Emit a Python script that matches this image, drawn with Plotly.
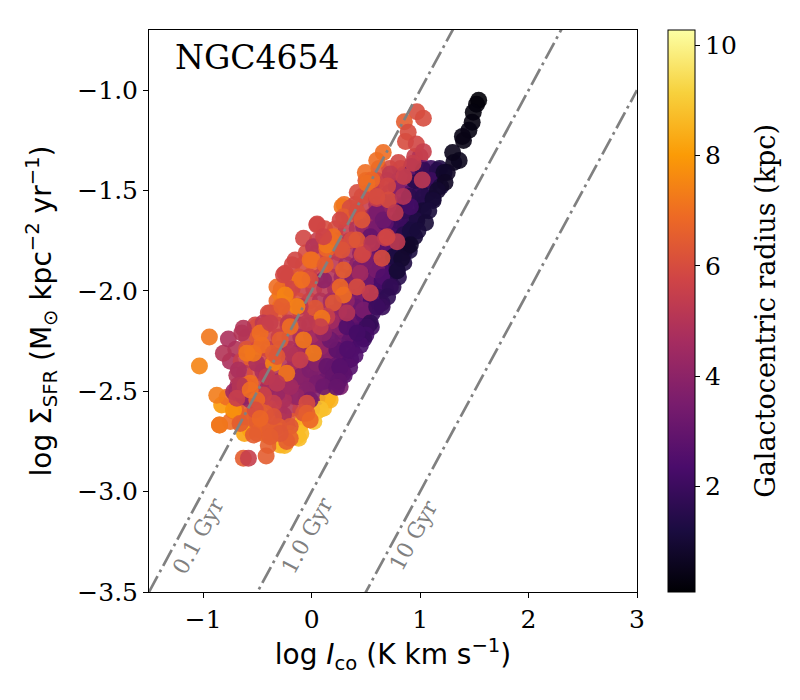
import math
import plotly.graph_objects as go

# ---- data ----
# black / dark chain near the centre (small radius)
x_core = [1.54, 1.52, 1.49, 1.48, 1.45, 1.40, 1.39, 1.36, 1.31, 1.30, 1.25, 1.22, 1.23, 1.16, 1.12, 1.08, 1.05, 0.98, 0.91, 0.83, 0.79]
y_core = [-1.05, -1.07, -1.11, -1.16, -1.20, -1.25, -1.23, -1.35, -1.36, -1.31, -1.41, -1.41, -1.46, -1.50, -1.55, -1.60, -1.66, -1.70, -1.77, -1.84, -1.90]
r_core = [0.15, 0.2, 0.25, 0.3, 0.35, 0.4, 0.4, 0.55, 0.6, 0.5, 0.7, 0.8, 0.7, 0.9, 1.0, 1.1, 1.0, 1.1, 0.8, 0.9, 1.0]

# dark-purple ridge on the right side of the cloud
x_ridge = [0.95, 0.90, 0.85, 0.80, 0.75, 0.725, 0.70, 0.65, 0.60, 0.55, 0.54, 0.51, 0.50, 0.48, 0.45, 0.42, 0.40, 0.36, 0.35, 0.33,
           0.30, 0.29, 0.26, 0.25, 0.23, 1.03, 1.16, 1.10, 1.19, 1.03, 1.12, 1.03, 0.97, 0.91, 0.91, 0.88, 0.755, 0.787]
y_ridge = [-1.73, -1.80, -1.86, -1.93, -1.98, -1.98, -2.03, -2.08, -2.08, -2.18, -2.16, -2.18, -2.22, -2.24, -2.27, -2.21, -2.32, -2.34, -2.38, -2.29,
           -2.42, -2.41, -2.38, -2.45, -2.48, -1.40, -1.40, -1.45, -1.48, -1.53, -1.54, -1.60, -1.65, -1.58, -1.70, -1.78, -1.83, -1.90]
r_ridge = [1.0, 1.2, 1.3, 1.5, 1.6, 1.8, 1.7, 1.9, 2.0, 2.1, 1.8, 2.0, 2.2, 2.0, 2.3, 2.2, 2.5, 2.5, 2.6, 2.5,
           2.7, 2.8, 2.7, 2.9, 3.0, 1.8, 1.5, 2.0, 1.2, 1.5, 1.0, 1.0, 1.3, 2.2, 1.2, 0.9, 1.2, 1.5]

# dense body of the cloud, read row by row
x_body = [0.95, 1.00,
          0.62, 0.72, 0.82, 0.92, 1.02, 1.10, 1.18,
          0.50, 0.60, 0.70, 0.80, 0.90, 0.98, 1.06, 1.14,
          0.42, 0.52, 0.62, 0.72, 0.82, 0.92, 1.00, 1.08,
          0.30, 0.40, 0.50, 0.60, 0.70, 0.78, 0.86, 0.94, 1.02,
          0.35, 0.45, 0.55, 0.65, 0.74, 0.82, 0.90, 0.97,
          0.12, 0.22, 0.32, 0.42, 0.52, 0.62, 0.71, 0.79, 0.86, 0.93,
          0.05, 0.15, 0.25, 0.35, 0.45, 0.55, 0.64, 0.73, 0.81, 0.88,
          -0.05, 0.05, 0.15, 0.25, 0.35, 0.45, 0.54, 0.63, 0.71, 0.79, 0.85,
          -0.18, -0.08, 0.02, 0.12, 0.22, 0.32, 0.42, 0.51, 0.60, 0.68, 0.76,
          -0.22, -0.12, -0.02, 0.08, 0.18, 0.28, 0.38, 0.47, 0.56, 0.64, 0.72,
          -0.28, -0.18, -0.08, 0.02, 0.12, 0.22, 0.32, 0.42, 0.51, 0.60, 0.68,
          -0.32, -0.22, -0.12, -0.02, 0.08, 0.18, 0.28, 0.38, 0.47, 0.55, 0.62,
          -0.40, -0.30, -0.20, -0.10, 0.00, 0.10, 0.20, 0.30, 0.40, 0.48, 0.56,
          -0.52, -0.42, -0.32, -0.22, -0.12, -0.02, 0.08, 0.18, 0.28, 0.37, 0.45, 0.52,
          -0.60, -0.50, -0.40, -0.30, -0.20, -0.10, 0.00, 0.10, 0.20, 0.29, 0.38, 0.46,
          -0.70, -0.60, -0.50, -0.40, -0.30, -0.20, -0.10, 0.00, 0.10, 0.20, 0.29, 0.37,
          -0.75, -0.65, -0.55, -0.45, -0.35, -0.25, -0.15, -0.05, 0.05, 0.15, 0.24, 0.32,
          -0.62, -0.52, -0.42, -0.32, -0.22, -0.12, -0.02, 0.08, 0.17, 0.26,
          -0.68, -0.58, -0.48, -0.38, -0.28, -0.18, -0.08, 0.02, 0.11, 0.20,
          -0.78, -0.65, -0.55, -0.45, -0.35, -0.25, -0.15, -0.05, 0.05, 0.15,
          -0.70, -0.60, -0.50, -0.40, -0.30, -0.20, -0.10, 0.00, 0.08,
          -0.75, -0.62, -0.50, -0.40, -0.28, -0.18, -0.08, 0.02,
          -0.62, -0.50, -0.40, -0.30, -0.20, -0.10,
          -0.40, -0.25]
y_body = [-1.33, -1.33,
          -1.39, -1.39, -1.39, -1.39, -1.39, -1.39, -1.39,
          -1.45, -1.45, -1.45, -1.45, -1.45, -1.45, -1.45, -1.45,
          -1.51, -1.51, -1.51, -1.51, -1.51, -1.51, -1.51, -1.51,
          -1.57, -1.57, -1.57, -1.57, -1.57, -1.57, -1.57, -1.57, -1.57,
          -1.63, -1.63, -1.63, -1.63, -1.63, -1.63, -1.63, -1.63,
          -1.69, -1.69, -1.69, -1.69, -1.69, -1.69, -1.69, -1.69, -1.69, -1.69,
          -1.75, -1.75, -1.75, -1.75, -1.75, -1.75, -1.75, -1.75, -1.75, -1.75,
          -1.81, -1.81, -1.81, -1.81, -1.81, -1.81, -1.81, -1.81, -1.81, -1.81, -1.81,
          -1.87, -1.87, -1.87, -1.87, -1.87, -1.87, -1.87, -1.87, -1.87, -1.87, -1.87,
          -1.93, -1.93, -1.93, -1.93, -1.93, -1.93, -1.93, -1.93, -1.93, -1.93, -1.93,
          -1.99, -1.99, -1.99, -1.99, -1.99, -1.99, -1.99, -1.99, -1.99, -1.99, -1.99,
          -2.05, -2.05, -2.05, -2.05, -2.05, -2.05, -2.05, -2.05, -2.05, -2.05, -2.05,
          -2.11, -2.11, -2.11, -2.11, -2.11, -2.11, -2.11, -2.11, -2.11, -2.11, -2.11,
          -2.17, -2.17, -2.17, -2.17, -2.17, -2.17, -2.17, -2.17, -2.17, -2.17, -2.17, -2.17,
          -2.23, -2.23, -2.23, -2.23, -2.23, -2.23, -2.23, -2.23, -2.23, -2.23, -2.23, -2.23,
          -2.29, -2.29, -2.29, -2.29, -2.29, -2.29, -2.29, -2.29, -2.29, -2.29, -2.29, -2.29,
          -2.35, -2.35, -2.35, -2.35, -2.35, -2.35, -2.35, -2.35, -2.35, -2.35, -2.35, -2.35,
          -2.41, -2.41, -2.41, -2.41, -2.41, -2.41, -2.41, -2.41, -2.41, -2.41,
          -2.47, -2.47, -2.47, -2.47, -2.47, -2.47, -2.47, -2.47, -2.47, -2.47,
          -2.53, -2.53, -2.53, -2.53, -2.53, -2.53, -2.53, -2.53, -2.53, -2.53,
          -2.59, -2.59, -2.59, -2.59, -2.59, -2.59, -2.59, -2.59, -2.59,
          -2.65, -2.65, -2.65, -2.65, -2.65, -2.65, -2.65, -2.65,
          -2.71, -2.71, -2.71, -2.71, -2.71, -2.71,
          -2.77, -2.77]
r_body = [5.5, 5.0,
          6.2, 6.0, 5.5, 5.2, 3.0, 2.0, 1.3,
          6.3, 6.0, 5.5, 4.8, 3.5, 2.5, 1.8, 1.2,
          6.0, 5.8, 5.2, 4.5, 3.8, 2.6, 1.8, 1.2,
          7.0, 5.9, 5.5, 4.8, 4.0, 3.2, 2.4, 1.8, 1.2,
          6.0, 5.6, 5.0, 4.2, 3.3, 2.5, 1.8, 1.3,
          6.0, 6.0, 5.5, 5.0, 4.4, 3.8, 3.0, 2.3, 1.7, 1.2,
          5.5, 6.2, 5.6, 5.2, 4.6, 3.9, 3.2, 2.5, 1.8, 1.3,
          6.0, 6.0, 5.8, 5.5, 4.8, 4.2, 3.6, 2.8, 2.2, 1.6, 1.2,
          5.8, 6.0, 6.3, 5.6, 5.2, 4.6, 4.0, 3.4, 2.8, 2.2, 1.6,
          6.2, 6.3, 5.8, 5.5, 5.0, 4.5, 3.8, 3.2, 2.6, 2.1, 1.6,
          6.6, 6.0, 5.6, 5.5, 5.2, 4.8, 4.2, 3.5, 2.9, 2.3, 1.8,
          6.8, 6.2, 6.0, 5.6, 5.0, 4.6, 4.0, 3.4, 2.8, 2.3, 1.9,
          6.0, 6.5, 6.0, 5.6, 5.2, 4.8, 4.2, 3.6, 3.0, 2.5, 2.0,
          5.8, 6.2, 5.8, 5.5, 5.0, 4.6, 4.3, 3.8, 3.3, 2.8, 2.3, 2.0,
          5.5, 6.4, 5.8, 5.6, 5.2, 4.8, 4.5, 4.1, 3.6, 3.1, 2.7, 2.3,
          5.0, 6.2, 5.8, 5.5, 5.2, 4.9, 4.6, 4.2, 3.9, 3.4, 2.9, 2.5,
          4.8, 5.5, 6.5, 5.8, 5.3, 5.0, 4.6, 4.3, 4.0, 3.5, 3.0, 2.7,
          5.2, 6.0, 5.5, 5.0, 4.7, 4.4, 4.1, 3.7, 3.3, 2.9,
          4.8, 6.3, 5.4, 5.0, 4.6, 4.4, 4.1, 3.8, 3.4, 3.1,
          7.0, 5.2, 6.2, 5.6, 5.0, 4.6, 4.3, 4.0, 3.8, 8.5,
          7.3, 6.5, 6.0, 6.4, 5.5, 5.0, 5.5, 6.2, 8.8,
          7.0, 6.6, 6.4, 6.5, 6.6, 6.4, 8.5, 8.9,
          8.2, 6.5, 6.8, 6.4, 8.2, 8.7,
          6.6, 8.6]

# purple interior (intermediate radius)
x_mid = [0.70, 0.75, 0.80, 0.85, 0.90, 0.95, 1.00, 0.62, 0.55, 0.58, 0.50, 0.45, 0.40, 0.36, 0.30, 0.25, 0.22, 0.15, 0.08, 0.05,
         0.12, 0.00, -0.05, -0.10, -0.15, -0.20, -0.25, -0.30, -0.40, -0.45, 0.65, 0.70, 0.75, 0.80, 0.85, 0.55, 0.48, 0.42, 0.35, 0.30,
         0.20, 0.38, 0.32, 0.25, 0.18, 0.10, 0.05, 0.00, -0.08, -0.15, 0.45, 0.52, 0.48, 0.58, 0.65, 0.72, 0.78, 0.85, 0.92, 0.62,
         0.60, 0.68, 0.60, 0.66, 0.54, 0.51, 0.633, 0.42, 0.66, 0.11, 0.447, 0.60, 0.663, 0.648, 0.479, -0.106, -0.014, 0.048, 0.14, 0.048,
         -0.044, -0.136, -0.26, -0.32, -0.014, 0.233, 0.17, 0.325, 0.11, 0.233, 0.263, 0.20, 0.11, 0.263, -0.198, -0.69, -0.72, -0.567, -0.63, -0.26,
         -0.475, -0.69, -0.814, -0.768, -0.644, -0.506, -0.198, -0.675]
y_mid = [-1.80, -1.72, -1.65, -1.60, -1.53, -1.45, -1.44, -1.78, -1.85, -1.92, -1.95, -2.02, -2.08, -2.15, -2.20, -2.18, -2.28, -2.30, -2.28, -2.42,
         -2.45, -2.35, -2.45, -2.40, -2.45, -2.40, -2.50, -2.45, -2.48, -2.40, -1.95, -1.90, -1.85, -1.78, -1.72, -2.05, -2.12, -2.20, -2.25, -2.32,
         -2.38, -1.95, -2.05, -2.10, -2.15, -2.20, -2.15, -2.22, -2.30, -2.32, -1.88, -1.75, -1.68, -1.62, -1.58, -1.55, -1.48, -1.42, -1.38, -1.68,
         -1.686, -1.66, -1.61, -1.647, -1.73, -1.846, -1.88, -1.91, -1.78, -1.945, -1.912, -1.896, -1.93, -2.06, -2.095, -2.427, -2.394, -2.36, -2.377, -2.46,
         -2.494, -2.527, -2.543, -2.51, -2.543, -2.294, -2.244, -2.178, -2.21, -2.41, -2.477, -2.427, -2.477, -2.377, -2.477, -2.494, -2.502, -2.543, -2.527, -2.618,
         -2.527, -2.42, -2.31, -2.24, -2.21, -2.36, -2.31, -2.394]
r_mid = [2.5, 2.2, 2.0, 1.8, 1.6, 1.5, 1.8, 3.0, 3.3, 2.8, 3.2, 3.5, 3.2, 3.0, 3.4, 3.8, 3.5, 3.9, 4.2, 3.6,
         3.2, 4.0, 3.9, 4.3, 4.5, 4.7, 4.4, 4.6, 4.6, 4.8, 2.3, 2.0, 1.8, 1.6, 1.5, 2.4, 2.6, 2.7, 2.9, 3.0,
         3.2, 3.8, 4.0, 4.2, 4.5, 4.4, 4.8, 4.6, 4.5, 4.8, 3.6, 3.8, 4.2, 4.0, 3.9, 3.5, 3.8, 3.6, 3.0, 3.6,
         3.5, 2.8, 3.5, 3.2, 3.0, 3.5, 2.5, 3.8, 2.8, 4.0, 4.5, 3.5, 2.5, 2.5, 3.5, 3.8, 3.6, 3.8, 3.0, 3.5,
         3.8, 4.2, 4.8, 4.3, 3.5, 2.8, 3.2, 2.5, 4.0, 3.0, 3.5, 3.0, 3.2, 2.7, 4.5, 4.5, 4.5, 4.3, 4.0, 4.8,
         4.5, 5.0, 5.0, 4.8, 5.0, 4.8, 5.0, 4.8]

# red / orange points (outer disc)
x_outer = [0.97, 1.03, 0.855, 0.89, 0.865, 0.965, 1.03, 0.66, 0.60, 0.80, 0.935, 0.725, 0.495, 0.555, 0.85, 1.02, 0.70, 0.464, 0.60, 0.71,
           0.845, 0.28, 0.355, 0.77, 0.05, -0.075, 0.017, 0.17, 0.14, 0.26, 0.37, 0.475, 0.68, 0.787, -0.152, -0.014,
           0.048, 0.002, 0.14, 0.20, 0.294, 0.418, 0.51, 0.60, 0.464, 0.28, 0.418, 0.464, 0.556, 0.648, 0.695, -0.244, -0.106, -0.29, -0.198,
           -0.014, 0.125, 0.294, 0.263, 0.294, 0.20, 0.418, 0.54, 0.325, 0.14, 0.033, -0.106, -0.29, -0.383, -0.32, -0.506, -0.63, -0.214,
           0.263, 0.11, -0.447,
           -0.26, -0.09, -0.244, -0.136, -0.275, 0.094, -0.429, -0.475, -0.943, -1.035, -0.537, -0.352, -0.598, -0.46, -0.352, -0.567,
           -0.66, -0.29, -0.198, -0.23, -0.32, -0.075, 0.017, -0.106, -0.413, -0.32, -0.352, -0.444, 0.079, -0.044, -0.383,
           -0.875, -0.72, -0.66, -0.85, -0.614, -0.506, -0.475, -0.383, -0.306, -0.198, -0.198, -0.075, -0.044, -0.506, -0.429, -0.52,
           -0.352, -0.23, -0.29, -0.63, -0.583, -0.42, -0.537, -0.383, -0.475, -0.66, -0.69, -0.567, -0.044, -0.014]
y_outer = [-1.107, -1.14, -1.157, -1.21, -1.256, -1.268, -1.306, -1.31, -1.35, -1.36, -1.364, -1.417, -1.41, -1.447, -1.43, -1.447, -1.477, -1.53, -1.54, -1.547,
           -1.53, -1.58, -1.587, -1.61, -1.666, -1.737, -1.78, -1.746, -1.79, -1.78, -1.746, -1.81, -1.736, -1.755, -1.846, -1.846,
           -1.671, -1.846, -1.771, -1.73, -1.63, -1.605, -1.464, -1.53, -1.647, -1.796, -1.746, -1.82, -1.763, -1.837, -1.73, -1.912, -1.945, -2.015, -1.99,
           -1.945, -1.87, -1.896, -1.98, -2.02, -2.06, -1.98, -2.01, -2.11, -2.128, -2.086, -2.078, -2.078, -2.11, -1.98, -2.178, -2.186, -2.16,
           -1.647, -1.73, -2.16,
           -1.92, -1.945, -2.02, -2.078, -2.078, -2.136, -2.17, -2.21, -2.23, -2.374, -2.31, -2.36, -2.31, -2.27, -2.31, -2.46,
           -2.494, -2.244, -2.178, -2.41, -2.327, -2.244, -2.31, -2.344, -2.427, -2.46, -2.56, -2.518, -2.178, -2.16, -2.16,
           -2.52, -2.593, -2.66, -2.668, -2.47, -2.643, -2.693, -2.693, -2.676, -2.676, -2.734, -2.61, -2.56, -2.543, -2.61, -2.593,
           -2.626, -2.75, -2.71, -2.834, -2.834, -2.822, -2.718, -2.726, -2.635, -2.47, -2.535, -2.494, -2.61, -2.643]
r_outer = [6.0, 6.0, 6.5, 6.0, 6.0, 5.8, 5.5, 7.0, 7.0, 5.8, 5.5, 5.3, 7.0, 6.8, 5.5, 5.2, 5.8, 6.0, 5.5, 6.0,
           5.0, 7.2, 6.0, 5.3, 5.8, 5.8, 5.0, 7.0, 6.8, 6.0, 6.0, 5.5, 5.5, 5.3, 5.8, 7.0,
           5.8, 7.0, 7.2, 7.0, 6.5, 6.0, 7.0, 6.0, 6.3, 6.2, 6.3, 5.8, 5.2, 6.0, 5.8, 5.8, 7.2, 7.3, 5.8,
           6.0, 6.5, 6.5, 6.8, 7.0, 6.3, 6.0, 5.5, 5.0, 5.5, 6.3, 5.2, 7.0, 6.0, 7.0, 6.0, 5.0, 5.3,
           5.8, 5.7, 5.2,
           5.8, 7.0, 7.5, 7.5, 6.5, 7.2, 5.5, 7.0, 7.2, 7.5, 7.2, 7.5, 7.2, 7.0, 6.5, 7.0,
           5.0, 6.5, 7.0, 7.2, 6.3, 7.2, 7.3, 5.5, 5.3, 5.2, 5.5, 5.6, 5.5, 5.3, 5.5,
           7.3, 7.8, 6.5, 7.2, 6.8, 6.5, 6.7, 6.5, 6.5, 6.3, 6.6, 6.2, 6.0, 6.8, 6.5, 6.0,
           6.2, 6.5, 6.3, 6.5, 5.5, 6.5, 6.5, 6.5, 6.8, 5.0, 5.5, 7.0, 6.5, 6.8]

# yellow points (largest radius)
x_edge = [-0.83, -0.583, -0.567, -0.66, -0.413, -0.29, -0.136, -0.106, -0.12, 0.048, 0.063, 0.11, 0.14, 0.17, -0.72, -0.85, -0.20, 0.0]
y_edge = [-2.568, -2.626, -2.693, -2.652, -2.718, -2.768, -2.726, -2.668, -2.734, -2.60, -2.568, -2.585, -2.543, -2.543, -2.60, -2.668, -2.70, -2.62]
r_edge = [8.0, 8.0, 8.3, 8.0, 8.5, 8.5, 8.8, 8.6, 8.7, 8.8, 9.0, 8.7, 8.5, 8.5, 7.8, 7.2, 8.6, 8.9]

# constant depletion-time lines
tdep_gyr = [0.1, 1.0, 10.0]
tdep_labels = ["0.1 Gyr", "1.0 Gyr", "10 Gyr"]
line_x = [-1.5, 3.0]
label_x = [-1.04, -0.04, 0.94]
label_y = [-3.22, -3.22, -3.22]

# ---- assemble in drawing order ----
xs = x_edge + x_body + x_mid + x_ridge + x_core + x_outer
ys = y_edge + y_body + y_mid + y_ridge + y_core + y_outer
rs = r_edge + r_body + r_mid + r_ridge + r_core + r_outer

serif = "DejaVu Serif"
sans = "DejaVu Sans"

fig = go.Figure()
fig.add_trace(go.Scatter(
    x=xs, y=ys, mode="markers",
    marker=dict(
        size=17, color=rs, colorscale="Inferno", cmin=0.08, cmax=10.28,
        opacity=0.9, line=dict(width=0),
        colorbar=dict(
            thickness=27, len=562, lenmode="pixels", x=1.0635, xanchor="left",
            y=0.5, yanchor="middle", xpad=0, ypad=0,
            outlinecolor="black", outlinewidth=1,
            tickvals=[2, 4, 6, 8, 10], ticks="outside", ticklen=5, tickcolor="black",
            tickfont=dict(family=serif, size=25, color="black"),
        ),
    ),
    showlegend=False, hoverinfo="skip",
))

for t in tdep_gyr:
    off = -2.0 - math.log10(t / 0.1)
    fig.add_trace(go.Scatter(
        x=line_x, y=[xv + off for xv in line_x], mode="lines",
        line=dict(color="#808080", width=2.7, dash="18px,4.5px,2.8px,4.5px"),
        showlegend=False, hoverinfo="skip",
    ))

for lx, ly, lt in zip(label_x, label_y, tdep_labels):
    fig.add_annotation(x=lx, y=ly, text=lt, showarrow=False, textangle=-61.6,
                       font=dict(family=serif, size=22, color="#808080"))

fig.add_annotation(xref="paper", yref="paper", x=0.049, y=0.951, xanchor="left", yanchor="middle",
                   text="NGC4654", showarrow=False, font=dict(family=serif, size=33, color="black"))

# colour-bar title
fig.add_annotation(xref="paper", yref="paper", x=1.262, y=0.5, xanchor="center", yanchor="middle",
                   text="Galactocentric radius (kpc)", textangle=-90, showarrow=False,
                   font=dict(family=serif, size=27, color="black"))

fig.update_layout(
    width=792, height=692,
    margin=dict(l=141, r=163, t=22, b=108),
    plot_bgcolor="white", paper_bgcolor="white",
)
fig.update_xaxes(
    range=[-1.5, 3.0], tickvals=[-1, 0, 1, 2, 3], showline=True, mirror=True, linecolor="black", linewidth=1,
    ticks="outside", ticklen=5, tickcolor="black", showgrid=False, zeroline=False,
    tickfont=dict(family=serif, size=25, color="black"),
    title=dict(text="log <i>I</i><sub>co</sub> (K km s<sup>−1</sup>)", font=dict(family=sans, size=28, color="black"), standoff=5),
)
fig.update_yaxes(
    range=[-3.5, -0.7], tickvals=[-3.5, -3.0, -2.5, -2.0, -1.5, -1.0], tickformat=".1f",
    showline=True, mirror=True, linecolor="black", linewidth=1,
    ticks="outside", ticklen=5, tickcolor="black", showgrid=False, zeroline=False,
    tickfont=dict(family=serif, size=25, color="black"),
    title=dict(text="log Σ<sub>SFR</sub> (M<sub>⊙</sub> kpc<sup>−2</sup> yr<sup>−1</sup>)", font=dict(family=sans, size=28, color="black"), standoff=17),
)

fig.write_html("out.html")
